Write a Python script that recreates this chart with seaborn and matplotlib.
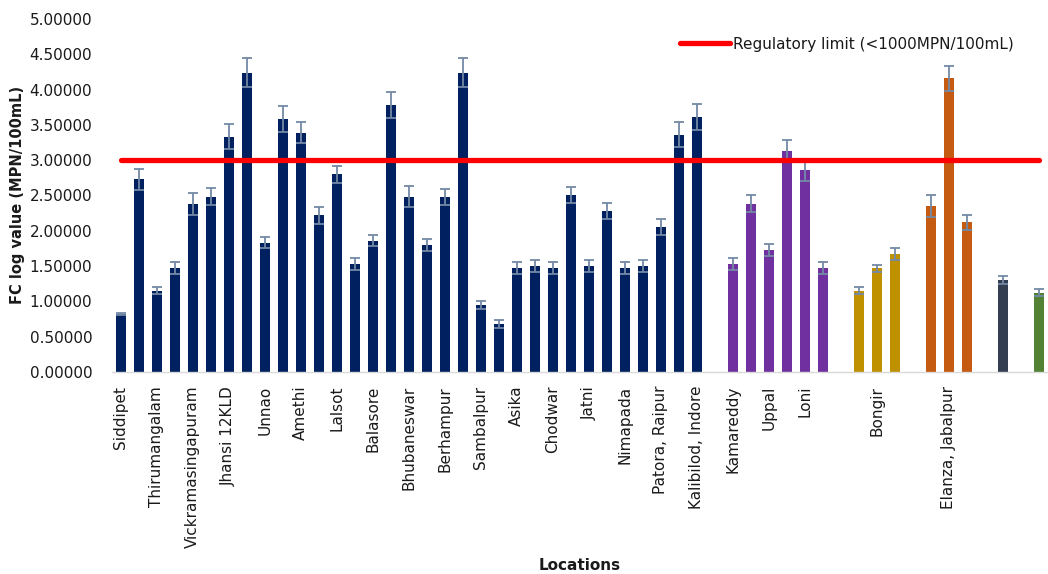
import numpy as np
import pandas as pd
import matplotlib
matplotlib.use("Agg")
import matplotlib.pyplot as plt
import seaborn as sns

# ---- data -------------------------------------------------------------
navy_labels = ["Siddipet", "", "Thirumangalam", "", "Vickramasingapuram", "",
               "Jhansi 12KLD", "", "Unnao", "", "Amethi", "", "Lalsot", "",
               "Balasore", "", "Bhubaneswar", "", "Berhampur", "", "Sambalpur", "",
               "Asika", "", "Chodwar", "", "Jatni", "", "Nimapada", "",
               "Patora, Raipur", "", "Kalibilod, Indore"]
navy_values = [0.82, 2.73, 1.15, 1.47, 2.38, 2.48, 3.33, 4.24, 1.83, 3.58, 3.39,
               2.22, 2.80, 1.53, 1.86, 3.78, 2.48, 1.80, 2.48, 4.24, 0.95, 0.68,
               1.47, 1.50, 1.47, 2.51, 1.50, 2.28, 1.47, 1.50, 2.05, 3.36, 3.61]
navy_errors = [0.02, 0.15, 0.05, 0.085, 0.15, 0.12, 0.175, 0.21, 0.08, 0.18, 0.15,
               0.12, 0.12, 0.085, 0.08, 0.18, 0.15, 0.085, 0.11, 0.21, 0.057, 0.057,
               0.085, 0.085, 0.085, 0.11, 0.085, 0.12, 0.085, 0.085, 0.11, 0.18, 0.18]

purple_labels = ["Kamareddy", "", "Uppal", "", "Loni", ""]
purple_values = [1.53, 2.38, 1.73, 3.13, 2.86, 1.47]
purple_errors = [0.09, 0.12, 0.085, 0.15, 0.155, 0.085]

gold_labels = ["", "Bongir", ""]
gold_values = [1.15, 1.47, 1.67]
gold_errors = [0.05, 0.05, 0.08]

orange_labels = ["", "Elanza, Jabalpur", ""]
orange_values = [2.35, 4.16, 2.12]
orange_errors = [0.15, 0.18, 0.11]

slate_labels = [""]
slate_values = [1.30]
slate_errors = [0.057]

green_labels = [""]
green_values = [1.12]
green_errors = [0.05]

regulatory_limit = 3.0  # log10(1000 MPN/100mL)
y_ticks = [0.0, 0.5, 1.0, 1.5, 2.0, 2.5, 3.0, 3.5, 4.0, 4.5, 5.0]

# ---- assemble frame (one empty slot between groups) -------------------
groups = [
    ("g1", navy_labels, navy_values, navy_errors, "#002060"),
    ("g2", purple_labels, purple_values, purple_errors, "#7030A0"),
    ("g3", gold_labels, gold_values, gold_errors, "#BF9000"),
    ("g4", orange_labels, orange_values, orange_errors, "#C55A11"),
    ("g5", slate_labels, slate_values, slate_errors, "#333F50"),
    ("g6", green_labels, green_values, green_errors, "#548235"),
]
rows = []
slot = 0
palette = {}
for name, labels, values, errors, color in groups:
    palette[name] = color
    for lab, v, e in zip(labels, values, errors):
        rows.append(dict(pos=slot, label=lab, value=v, err=e, group=name))
        slot += 1
    slot += 1
df = pd.DataFrame(rows)
last_slot = df["pos"].max()

# ---- figure -----------------------------------------------------------
sns.set_style("white")
plt.rcParams["font.family"] = ["DejaVu Sans"]

fig = plt.figure(figsize=(10.48, 5.74), dpi=100)
ax = fig.add_axes([0.1066, 0.352, 0.8934, 0.615])

sns.barplot(data=df, x="pos", y="value", hue="group", palette=palette,
            native_scale=True, dodge=False, width=0.55, errorbar=None,
            saturation=1, legend=False, ax=ax, linewidth=0)

ax.errorbar(df["pos"], df["value"], yerr=df["err"], fmt="none",
            ecolor="#7389A6", elinewidth=1.3, capsize=3.6, capthick=1.3, zorder=3)

sns.lineplot(x=[0, last_slot], y=[regulatory_limit, regulatory_limit], ax=ax,
             color="#FF0000", linewidth=3.8, solid_capstyle="round",
             label="Regulatory limit (<1000MPN/100mL)", zorder=4)

ax.set_xlim(-0.5, last_slot + 0.5)
ax.set_ylim(0, 5)
ax.set_yticks(y_ticks)
ax.set_yticklabels([f"{t:.5f}" for t in y_ticks], fontsize=11, color="#1a1a1a")

shown = df[df["label"] != ""]
ax.set_xticks(shown["pos"])
ax.set_xticklabels(shown["label"], rotation=90, fontsize=11, color="#1a1a1a",
                   va="top", ha="center")
ax.tick_params(axis="both", length=0)
ax.tick_params(axis="x", pad=10)
ax.tick_params(axis="y", pad=14)

for side in ["top", "right", "left"]:
    ax.spines[side].set_visible(False)
ax.spines["bottom"].set_color("#D9D9D9")
ax.spines["bottom"].set_linewidth(1.0)

ax.set_xlabel("")
ax.set_ylabel("")
fig.text(580 / 1048, 1 - 565 / 574, "Locations", ha="center", va="center",
         fontsize=11, fontweight="bold", color="#1a1a1a")
fig.text(18 / 1048, 1 - 195 / 574, "FC log value (MPN/100mL)", ha="center",
         va="center", rotation=90, fontsize=10.5, fontweight="bold", color="#1a1a1a")

leg = ax.legend(loc="center left", bbox_to_anchor=(680 / 1048, 1 - 44 / 574),
                bbox_transform=fig.transFigure, frameon=False, fontsize=11,
                handlelength=3.3, handletextpad=0.15, borderpad=0, borderaxespad=0)
for t in leg.get_texts():
    t.set_color("#1a1a1a")

fig.savefig("out.png", dpi=100)
